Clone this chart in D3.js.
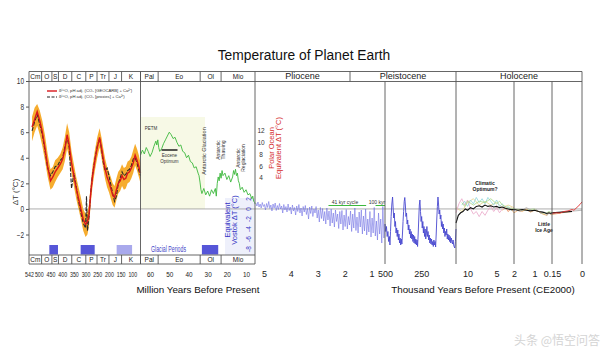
<!DOCTYPE html>
<html>
<head>
<meta charset="utf-8">
<script src="https://cdn.jsdelivr.net/npm/d3@7"></script>
<style>
body { margin: 0; background: #fff; }
svg { display: block; font-family: "Liberation Sans", Arial, sans-serif; }
</style>
</head>
<body>
<svg id="chart" width="609" height="363"></svg>
<script>
// geologic periods (Ma) for the header / footer rows
var periodNames = ["Cm","O","S","D","C","P","Tr","J","K","Pal","Eo","Ol","Mio"];
var periodBounds = [542,488,444,416,359,299,251,200,146,65,55.8,33.9,23,5.33];
var epochNames = ["Pliocene","Pleistocene","Holocene"];
var epochBounds = [5.33,1.8,0.012,0];

// tick labels
var maTicks1 = [542,500,450,400,350,300,250,200,150,100];
var maTicks2 = [60,50,40,30,20,10];
var maTicks3 = [5,4,3,2,1];
var kyrTicks = [500,250,10,5,2,1,0.15,0];
var tempTicks = [-2,0,2,4,6,8,10];
var vostokTicks = [2,0,-2,-4,-6,-8];
var polarTicks = [12,10,8,6,4];

// glacial periods [start Ma, end Ma, uncertain]
var glacial = [[455,418,false],[321,261,false],[167,101,true],[33,24.5,false]];

// Phanerozoic d18O reconstruction (Ma, deg C)
var p1Red = [[529,6.4],[518,7.0],[507,7.6],[496,6.9],[485,6.0],[474,4.8],[462,3.3],[450,2.2],[440,2.5],[430,2.9],[419,3.2],[408,3.5],[398,3.9],[389,4.6],[379,5.8],[370,5.0],[360,3.6],[350,2.6],[340,1.6],[330,0.8],[320,0.0],[310,-0.8],[300,-1.2],[292,-1.0],[285,-0.4],[278,1.2],[270,2.6],[260,3.8],[250,4.8],[240,5.6],[232,4.8],[224,3.9],[216,3.1],[208,2.5],[200,2.1],[192,1.6],[184,1.1],[176,0.9],[168,1.5],[160,2.0],[152,2.2],[144,2.6],[136,2.3],[128,2.4],[120,2.8],[112,2.9],[104,3.2],[96,3.6],[88,4.2],[80,3.8],[72,3.3],[65,2.8]];
var p1Black = [[529,6.1],[518,6.8],[507,7.4],[496,6.6],[485,5.8],[474,4.6],[462,3.2],[450,2.6],[440,2.9],[430,3.3],[419,3.4],[408,3.8],[398,4.0],[389,4.8],[379,5.6],[370,4.8],[360,1.6],[350,2.8],[340,1.8],[330,0.6],[320,-0.3],[310,-1.1],[300,-1.5],[296,1.0],[292,-1.7],[285,-0.6],[278,1.3],[270,2.7],[260,3.9],[250,4.9],[240,5.5],[232,4.7],[224,3.6],[216,3.0],[208,3.2],[200,2.6],[192,1.9],[184,1.2],[176,0.6],[168,1.0],[160,2.0],[152,2.4],[144,2.9],[136,2.6],[128,2.7],[120,3.0],[112,3.1],[104,3.4],[96,3.9],[88,4.0],[80,3.6],[72,3.0],[65,2.6]];
var p1Band = [[529,5.3,7.2],[518,6.0,7.9],[507,6.5,8.2],[496,5.8,7.7],[485,4.9,6.9],[474,3.8,5.8],[462,2.5,4.3],[450,1.5,3.1],[440,1.7,3.3],[430,2.1,3.8],[419,2.5,4.0],[408,2.8,4.3],[398,3.1,4.8],[389,3.7,5.6],[379,4.7,6.7],[370,4.0,6.0],[360,2.8,4.5],[350,1.8,3.5],[340,0.8,2.5],[330,0.0,1.7],[320,-0.8,0.9],[310,-1.7,0.0],[300,-2.2,-0.4],[292,-2.0,-0.2],[285,-1.3,0.4],[278,0.4,2.0],[270,1.8,3.4],[260,3.0,4.6],[250,4.0,5.6],[240,4.8,6.3],[232,4.0,5.6],[224,3.1,4.7],[216,2.3,3.9],[208,1.7,3.3],[200,1.3,2.9],[192,0.8,2.5],[184,0.3,2.0],[176,0.1,1.8],[168,0.7,2.4],[160,1.2,2.9],[152,1.4,3.1],[144,1.8,3.5],[136,1.5,3.2],[128,1.6,3.3],[120,2.0,3.7],[112,2.1,3.8],[104,2.4,4.1],[96,2.8,4.6],[88,3.4,5.1],[80,3.0,4.7],[72,2.5,4.2],[65,2.0,3.6]];

// Cenozoic benthic record (Ma, deg C)
var p2Green = [[65,4.2],[64,4.6],[63,4.3],[62,4.8],[61,4.5],[60,4.1],[59,4.4],[58,4.9],[57,5.3],[56.5,5.0],[56,5.4],[55.5,4.8],[55,4.5],[54,4.7],[53,5.1],[52,5.4],[51,5.7],[50,6.0],[49,5.8],[48,5.5],[47,5.6],[46,5.2],[45,4.9],[44,5.0],[43,4.5],[42,4.4],[41,4.0],[40,4.2],[39,3.7],[38,3.6],[37,3.2],[36,3.3],[35,2.8],[34.5,2.6],[34,2.1],[33.5,1.5],[33,1.2],[32,1.6],[31,1.1],[30,1.4],[29,1.0],[28,1.5],[27,1.2],[26,1.6],[25.5,1.0],[25,2.0],[24.5,2.5],[24,2.2],[23.5,2.8],[23,2.4],[22.5,3.0],[22,2.6],[21,2.8],[20,2.3],[19,2.6],[18,2.1],[17,2.5],[16.5,3.0],[16,2.7],[15.5,3.1],[15,2.6],[14.5,2.8],[14,2.2],[13.5,2.0],[13,1.5],[12,1.7],[11,1.3],[10,1.5],[9,1.1],[8,1.2],[7,0.8],[6.5,1.0],[6,0.6],[5.5,0.5],[5.33,0.4]];

// Plio-Pleistocene stack, Vostok-equivalent deg C, sampled every 40 kyr from 5.30 Ma
var p3Times = d3.range(5.30, 0.49, -0.04);
var p3Values = [1.2,0.6,1.4,0.4,1.0,0.2,1.3,0.5,0.9,-0.2,
  1.1,0.3,1.5,0.1,0.8,-0.4,1.0,0.2,1.2,-0.3,
  0.7,-0.1,1.1,0.0,0.6,-0.8,0.9,-0.2,0.5,-0.6,
  1.0,-0.3,0.4,-1.0,0.8,-0.4,0.3,-1.2,0.6,-0.5,
  0.9,-0.8,0.2,-1.4,0.5,-0.6,0.7,-1.1,0.1,-2.0,
  0.4,-0.9,0.6,-1.5,0.0,-0.8,0.5,-1.8,-0.2,-2.6,
  0.3,-1.9,0.1,-2.4,-0.5,-3.0,0.2,-2.2,-0.4,-3.4,
  0.0,-2.8,-0.8,-3.6,-0.2,-2.5,-1.0,-3.9,-0.5,-3.0,
  -0.3,-4.2,-1.2,-3.5,-0.1,-4.0,-1.5,-3.2,-0.4,-4.5,
  -1.0,-3.8,0.2,-4.3,-1.6,-4.8,-0.6,-3.6,-0.2,-5.0,
  -1.4,-4.4,0.0,-5.2,-2.0,-4.6,-0.5,-5.6,-1.8,-4.8,
  0.3,-5.4,-2.4,-6.2,-0.8,-5.0,-2.0,-6.8,0.5,-5.8,
  -3.0];

// Vostok / EPICA ice core (kyr BP, Vostok deg C)
var vostok = [[500,-3.0],[495,-4.5],[490,-3.5],[485,-5.5],[480,-4.5],[475,-6.5],[470,-5.5],[466,-7.2],[462,-4.5],[458,-1.5],[453,1.0],[448,2.4],[444,0.2],[440,-1.8],[436,-0.8],[432,-3.5],[428,-2.5],[424,-4.8],[420,-3.8],[416,-5.5],[412,-4.2],[408,-6.2],[404,-5.0],[400,-6.8],[396,-5.8],[392,-7.2],[388,-6.0],[384,-7.0],[380,-5.0],[376,-2.5],[372,-0.5],[368,1.5],[364,2.3],[360,0.8],[356,-1.5],[352,-0.8],[348,-3.0],[344,-2.2],[340,-4.2],[336,-3.2],[332,-5.0],[328,-4.0],[324,-5.8],[320,-4.5],[316,-6.0],[312,-5.0],[308,-6.5],[304,-5.2],[300,-6.8],[296,-5.5],[292,-7.0],[288,-6.0],[284,-7.2],[280,-6.2],[276,-7.5],[272,-5.0],[268,-2.0],[264,0.8],[260,1.8],[256,-0.5],[252,-2.5],[248,-1.5],[244,-3.8],[240,-2.5],[236,-4.8],[232,-3.5],[228,-5.5],[224,-4.0],[220,-6.0],[216,-5.0],[212,-3.5],[208,-5.5],[204,-4.5],[200,-6.2],[196,-5.2],[192,-6.8],[188,-5.8],[184,-7.0],[180,-6.0],[176,-7.2],[172,-6.5],[168,-7.5],[164,-6.2],[160,-7.2],[156,-6.5],[152,-7.6],[148,-5.0],[144,-2.0],[140,0.5],[136,2.4],[132,1.0],[128,-1.0],[124,-0.2],[120,-2.0],[116,-1.2],[112,-3.5],[108,-2.5],[104,-4.0],[100,-3.0],[96,-4.8],[92,-3.8],[88,-5.5],[84,-4.5],[80,-5.2],[76,-4.0],[72,-6.0],[68,-5.0],[64,-6.2],[60,-5.2],[56,-6.5],[52,-5.5],[48,-6.8],[44,-5.8],[40,-6.5],[36,-7.0],[32,-6.2],[28,-7.2],[24,-7.6],[20,-7.8],[16,-6.5],[12,-4.0]];

// Holocene reconstructions (kyr BP, deg C)
var holoMean = [[12,-1.1],[11.6,-0.5],[11.2,-0.3],[10.8,-0.2],[10.4,0.0],[10,-0.1],[9.5,0.1],[9,0.0],[8.5,0.2],[8,0.25],[7.5,0.15],[7,0.3],[6.5,0.2],[6,0.25],[5.5,0.15],[5,0.2],[4.5,0.1],[4,0.15],[3.5,0.05],[3,0.0],[2.5,-0.05],[2,-0.05],[1.8,-0.1],[1.6,-0.05],[1.4,-0.1],[1.2,-0.15],[1,-0.1],[0.8,-0.2],[0.6,-0.25],[0.5,-0.3],[0.4,-0.35],[0.3,-0.3],[0.2,-0.35],[0.15,-0.3],[0.1,-0.25],[0.05,-0.2]];
var holoInstr = [[0.15,-0.35],[0.13,-0.3],[0.11,-0.32],[0.09,-0.2],[0.07,-0.15],[0.05,-0.05],[0.04,-0.1],[0.03,0.05],[0.02,0.2],[0.01,0.35],[0,0.55]];
var holoCyan = [[11,0.3],[10.5,0.6],[10,0.2],[9.5,0.7],[9,0.4],[8.5,0.9],[8,0.5],[7.5,0.8],[7,0.4],[6.5,0.9],[6,0.6],[5.5,0.3],[5,0.7],[4.5,0.2],[4,0.4],[3.5,0.0],[3,0.2],[2.5,-0.1],[2,0.0]];
var holoPink = [[12,-0.3],[11.5,0.4],[11,0.8],[10.5,0.3],[10,0.7],[9.5,0.0],[9,-0.4],[8.5,-0.2],[8,-0.6],[7.5,-0.2],[7,-0.5],[6.5,-0.1],[6,0.2],[5.5,-0.2],[5,0.1],[4.5,-0.3],[4,0.0],[3.5,0.2],[3,-0.2],[2.5,0.1],[2,-0.1]];
var holoGreen = [[11,0.5],[10.5,0.2],[10,0.6],[9,0.3],[8,0.6],[7,0.5],[6,0.8],[5,0.4],[4.5,0.6],[4,0.3],[3,0.1],[2,0.0],[1.5,-0.1],[1,0.0],[0.7,-0.3],[0.5,-0.4],[0.3,-0.2],[0.15,-0.3]];
var holoOrange = [[4,-0.1],[3.5,0.1],[3,-0.2],[2.5,0.0],[2,-0.3],[1.8,-0.1],[1.6,-0.2],[1.4,0.0],[1.2,-0.25],[1,-0.1],[0.8,-0.2],[0.6,-0.4],[0.4,-0.5],[0.3,-0.3],[0.2,-0.45],[0.1,-0.3],[0.05,-0.2]];
var holoGray = [[2,0.0],[1.7,-0.2],[1.4,0.1],[1.1,-0.15],[0.9,-0.05],[0.7,-0.35],[0.5,-0.25],[0.4,-0.5],[0.3,-0.35],[0.2,-0.4],[0.1,-0.25],[0,-0.1]];
var holoTan = [[12,0.1],[11,-0.2],[10,0.5],[9,0.8],[8,0.3],[7,0.6],[6,0.3],[5,0.5],[4,0.1],[3,0.3],[2,0.1]];

var svg = d3.select("#chart");

// piecewise time axis in kyr
var x = d3.scaleLinear()
    .domain([542000, 65000, 5330, 500, 12, 2, 0.15, 0])
    .range([29, 140.5, 255, 385, 456, 514, 552, 582]);
var maX = function(ma) { return x(ma * 1000); };
var yL = d3.scaleLinear().domain([-3.6, 10]).range([255, 81]);
var yV = d3.scaleLinear().domain([-8, 2]).range([249, 199]);
var yP = d3.scaleLinear().domain([4, 12]).range([178, 131]);

var yTop = 71.5, headBot = 81.5, plotBot = 255, footBot = 264;

// title
svg.append("text").attr("x", 304).attr("y", 60).attr("text-anchor", "middle")
    .attr("font-size", 13.8).attr("fill", "#111").text("Temperature of Planet Earth");

// background shades
svg.append("rect").attr("x", 141).attr("y", 117).attr("width", 64).attr("height", 92)
    .attr("fill", "#f7f9e6");
svg.append("rect").attr("x", 225).attr("y", 198).attr("width", 30).attr("height", plotBot - 198)
    .attr("fill", "#eef0fb");

// glacial periods
svg.selectAll(".glacial").data(glacial).enter().append("rect")
    .attr("class", "glacial")
    .attr("x", d => maX(d[0]))
    .attr("width", d => maX(d[1]) - maX(d[0]))
    .attr("y", 245).attr("height", 9.5)
    .attr("fill", d => d[2] ? "#a9a9ec" : "#5656d8");
svg.append("text").attr("x", 151).attr("y", 251.5).attr("font-size", 8.5)
    .attr("textLength", 35).attr("lengthAdjust", "spacingAndGlyphs")
    .attr("fill", "#4646c8").text("Glacial Periods");

// zero line
svg.append("line").attr("x1", 29).attr("x2", 582).attr("y1", yL(0)).attr("y2", yL(0))
    .attr("stroke", "#999").attr("stroke-width", 0.8);

// panel 1
svg.append("path").datum(p1Band)
    .attr("d", d3.area().x(d => maX(d[0])).y0(d => yL(d[1])).y1(d => yL(d[2])))
    .attr("fill", "#f6ac2e");
svg.append("path").datum(p1Black)
    .attr("d", d3.line().x(d => maX(d[0])).y(d => yL(d[1])))
    .attr("fill", "none").attr("stroke", "#2a2a2a").attr("stroke-width", 1.1)
    .attr("stroke-dasharray", "4,1.5");
svg.append("path").datum(p1Red)
    .attr("d", d3.line().x(d => maX(d[0])).y(d => yL(d[1])))
    .attr("fill", "none").attr("stroke", "#d8161b").attr("stroke-width", 1.4);

// legend
svg.append("line").attr("x1", 47).attr("x2", 57).attr("y1", 91).attr("y2", 91)
    .attr("stroke", "#d8161b").attr("stroke-width", 1.4);
svg.append("line").attr("x1", 47).attr("x2", 57).attr("y1", 97).attr("y2", 97)
    .attr("stroke", "#222").attr("stroke-width", 1.2).attr("stroke-dasharray", "3,1.5");
svg.append("text").attr("x", 59).attr("y", 92.3).attr("font-size", 4.2).attr("fill", "#333")
    .text("δ¹⁸O, pH adj. (CO₂ [GEOCARB] + Ca²⁺)");
svg.append("text").attr("x", 59).attr("y", 98.3).attr("font-size", 4.2).attr("fill", "#333")
    .text("δ¹⁸O, pH adj. (CO₂ [proxies] + Ca²⁺)");

// panel 2
svg.append("path").datum(p2Green)
    .attr("d", d3.line().x(d => maX(d[0])).y(d => yL(d[1])))
    .attr("fill", "none").attr("stroke", "#3cb83c").attr("stroke-width", 0.9);
svg.append("text").attr("x", 151).attr("y", 130).attr("font-size", 4.5).attr("text-anchor", "middle")
    .attr("fill", "#333").text("PETM");
svg.append("line").attr("x1", 161.5).attr("x2", 177.5).attr("y1", 150).attr("y2", 150)
    .attr("stroke", "#111").attr("stroke-width", 1.4);
svg.append("text").attr("x", 169.5).attr("y", 157).attr("font-size", 4.5).attr("text-anchor", "middle")
    .attr("fill", "#333").text("Eocene");
svg.append("text").attr("x", 169.5).attr("y", 162.5).attr("font-size", 4.5).attr("text-anchor", "middle")
    .attr("fill", "#333").text("Optimum");

function vText(cx, cy, lines, size, color, gap) {
    var t = svg.append("text")
        .attr("transform", "translate(" + cx + "," + cy + ") rotate(-90)")
        .attr("text-anchor", "middle").attr("font-size", size).attr("fill", color);
    lines.forEach(function(l, i) {
        t.append("tspan").attr("x", 0)
            .attr("y", (i - (lines.length - 1) / 2) * gap + size * 0.35).text(l);
    });
}
vText(204.5, 151, ["Antarctic Glaciation"], 5.5, "#333", 5);
vText(221, 150, ["Antarctic", "Thawing"], 5, "#333", 5);
vText(241, 158, ["Antarctic", "Reglaciation"], 5, "#333", 5);
vText(231, 220, ["Equivalent", "Vostok ΔT (°C)"], 7.5, "#3434c4", 7);
vText(275, 148, ["Polar Ocean", "Equivalent ΔT (°C)"], 7.5, "#d42a2a", 7);

// secondary axes (labels only)
svg.selectAll(".vtick").data(vostokTicks).enter().append("text")
    .attr("class", "vtick")
    .attr("transform", d => "translate(249," + yV(d) + ") rotate(-90)")
    .attr("text-anchor", "middle").attr("dy", "0.35em")
    .attr("font-size", 6.5).attr("fill", "#3434c4").text(d => d);
svg.selectAll(".ptick").data(polarTicks).enter().append("text")
    .attr("class", "ptick")
    .attr("x", 261).attr("y", d => yP(d)).attr("dy", "0.35em")
    .attr("text-anchor", "middle").attr("font-size", 6.5).attr("fill", "#333").text(d => d);

// panel 3
var p3 = p3Values.map((v, i) => [p3Times[i], v]);
svg.append("path").datum(p3)
    .attr("d", d3.line().x(d => maX(d[0])).y(d => yV(d[1])))
    .attr("fill", "none").attr("stroke", "#7272e4").attr("stroke-width", 0.6);
svg.append("line").attr("x1", maX(2.6)).attr("x2", maX(1.2)).attr("y1", 205.5).attr("y2", 205.5)
    .attr("stroke", "#3cb83c").attr("stroke-width", 1);
svg.append("line").attr("x1", maX(0.85)).attr("x2", maX(0.5)).attr("y1", 205.5).attr("y2", 205.5)
    .attr("stroke", "#3cb83c").attr("stroke-width", 1);
svg.append("text").attr("x", 345).attr("y", 204).attr("font-size", 5).attr("text-anchor", "middle")
    .attr("fill", "#333").text("41 kyr cycle");
svg.append("text").attr("x", 377).attr("y", 204).attr("font-size", 5).attr("text-anchor", "middle")
    .attr("fill", "#333").text("100 kyr");

// panel 4
svg.append("path").datum(vostok)
    .attr("d", d3.line().x(d => x(d[0])).y(d => yV(d[1])))
    .attr("fill", "none").attr("stroke", "#4848cf").attr("stroke-width", 0.9);

// Holocene
var holoLine = d3.line().x(d => x(d[0])).y(d => yL(d[1]));
[[holoTan, "#e6d48a"], [holoPink, "#eaa6c8"], [holoCyan, "#8fd6dc"], [holoGreen, "#a8d888"],
 [holoOrange, "#f0a860"], [holoGray, "#a8a8a8"]].forEach(function(s) {
    svg.append("path").datum(s[0]).attr("d", holoLine)
        .attr("fill", "none").attr("stroke", s[1]).attr("stroke-width", 0.8);
});
svg.append("path").datum(holoMean).attr("d", holoLine)
    .attr("fill", "none").attr("stroke", "#111").attr("stroke-width", 1.1);
svg.append("path").datum(holoInstr).attr("d", holoLine)
    .attr("fill", "none").attr("stroke", "#e03030").attr("stroke-width", 0.9);
svg.append("text").attr("x", 485).attr("y", 185).attr("font-size", 5).attr("font-weight", "bold")
    .attr("text-anchor", "middle").attr("fill", "#222").text("Climatic");
svg.append("text").attr("x", 485).attr("y", 190.5).attr("font-size", 5).attr("font-weight", "bold")
    .attr("text-anchor", "middle").attr("fill", "#222").text("Optimum?");
svg.append("text").attr("x", 544).attr("y", 226).attr("font-size", 5).attr("font-weight", "bold")
    .attr("text-anchor", "middle").attr("fill", "#222").text("Little");
svg.append("text").attr("x", 544).attr("y", 232).attr("font-size", 5).attr("font-weight", "bold")
    .attr("text-anchor", "middle").attr("fill", "#222").text("Ice Age");

// frame
var frame = svg.append("g").attr("stroke", "#555").attr("stroke-width", 0.9).attr("fill", "none");
frame.append("line").attr("x1", 29).attr("x2", 582).attr("y1", yTop).attr("y2", yTop);
frame.append("line").attr("x1", 29).attr("x2", 582).attr("y1", headBot).attr("y2", headBot);
frame.append("line").attr("x1", 29).attr("x2", maX(5.33)).attr("y1", plotBot).attr("y2", plotBot);
frame.append("line").attr("x1", 29).attr("x2", maX(5.33)).attr("y1", footBot).attr("y2", footBot);
[542, 65, 5.33, 0.012, 0].forEach(function(m) {
    frame.append("line").attr("x1", maX(m)).attr("x2", maX(m)).attr("y1", yTop).attr("y2", footBot);
});
[0.5, 0.002, 0.00015].forEach(function(m) {
    frame.append("line").attr("x1", maX(m)).attr("x2", maX(m)).attr("y1", headBot).attr("y2", footBot);
});
periodBounds.slice(1, -1).forEach(function(m) {
    frame.append("line").attr("x1", maX(m)).attr("x2", maX(m)).attr("y1", yTop).attr("y2", headBot);
    frame.append("line").attr("x1", maX(m)).attr("x2", maX(m)).attr("y1", plotBot).attr("y2", footBot);
});
frame.append("line").attr("x1", maX(1.8)).attr("x2", maX(1.8)).attr("y1", yTop).attr("y2", headBot);

// header / footer labels
periodNames.forEach(function(n, i) {
    var cx = (maX(periodBounds[i]) + maX(periodBounds[i + 1])) / 2;
    [yTop + 7.3, plotBot + 7.3].forEach(function(yy) {
        svg.append("text").attr("x", cx).attr("y", yy).attr("text-anchor", "middle")
            .attr("font-size", 6.5).attr("fill", "#222").text(n);
    });
});
epochNames.forEach(function(n, i) {
    var cx = (maX(epochBounds[i]) + maX(epochBounds[i + 1])) / 2;
    svg.append("text").attr("x", cx).attr("y", yTop + 7.8).attr("text-anchor", "middle")
        .attr("font-size", 9).attr("fill", "#222").text(n);
});

// left axis
var yAxis = svg.append("g").attr("transform", "translate(29,0)")
    .call(d3.axisLeft(yL).tickValues(tempTicks).tickSize(3).tickPadding(2));
yAxis.select(".domain").remove();
yAxis.selectAll("line").attr("stroke", "#555");
yAxis.selectAll("text").attr("font-size", 8.5).attr("fill", "#333")
    .attr("font-family", "Liberation Sans, Arial, sans-serif")
    .attr("textLength", d => String(d).length * 3.6).attr("lengthAdjust", "spacingAndGlyphs");
svg.append("text").attr("transform", "translate(18,192) rotate(-90)").attr("text-anchor", "middle")
    .attr("font-size", 8).attr("fill", "#333").text("ΔT (°C)");

// bottom axes (the Phanerozoic and Cenozoic labels are squeezed horizontally)
function bottomAxis(values, fmt, squeeze, size) {
    var g = svg.append("g").attr("transform", "translate(0,268)")
        .call(d3.axisBottom(x).tickValues(values).tickFormat(fmt).tickSize(0).tickPadding(3));
    g.select(".domain").remove();
    var t = g.selectAll("text").attr("font-size", size).attr("fill", "#222")
        .attr("font-family", "Liberation Sans, Arial, sans-serif");
    if (squeeze) t.attr("transform", "scale(" + squeeze + ",1)");
}
bottomAxis(maTicks1.map(m => m * 1000), d => d / 1000, 0.66, 8);
bottomAxis(maTicks2.map(m => m * 1000), d => d / 1000, 0.8, 8);
bottomAxis(maTicks3.map(m => m * 1000), d => d / 1000, null, 9);
bottomAxis(kyrTicks, d => d, null, 9);

svg.append("text").attr("x", 198).attr("y", 293).attr("text-anchor", "middle")
    .attr("font-size", 9.8).attr("fill", "#111").text("Million Years Before Present");
svg.append("text").attr("x", 483).attr("y", 293).attr("text-anchor", "middle")
    .attr("font-size", 9.8).attr("fill", "#111").text("Thousand Years Before Present (CE2000)");

// watermark
svg.append("text").attr("x", 600).attr("y", 345).attr("text-anchor", "end")
    .attr("font-family", "Noto Sans CJK SC, sans-serif").attr("font-size", 12)
    .attr("fill", "#d4d4d4").text("头条 @悟空问答");
</script>
</body>
</html>
